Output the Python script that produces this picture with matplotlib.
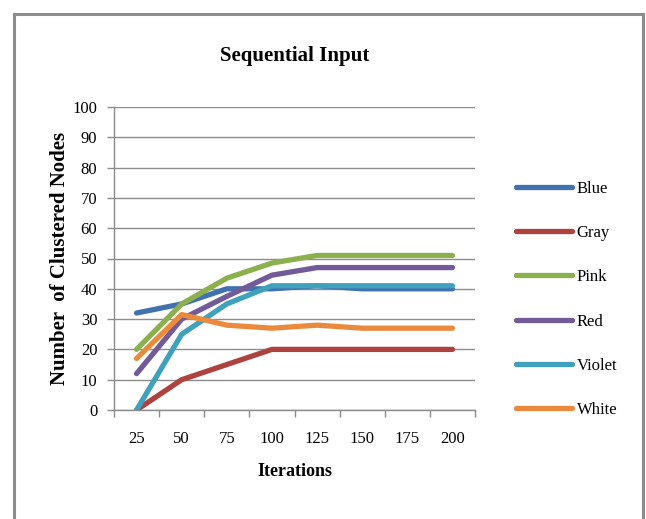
import matplotlib
matplotlib.use("Agg")
import matplotlib.pyplot as plt
from matplotlib.patches import Rectangle
import numpy as np

# Iteration categories and clustered-node counts per colour series
iterations = ["25", "50", "75", "100", "125", "150", "175", "200"]
blue = [32, 35, 40, 40, 41, 40, 40, 40]
gray = [0, 10, 15, 20, 20, 20, 20, 20]
pink = [20, 35, 43.5, 48.5, 51, 51, 51, 51]
red = [12, 30, 37.5, 44.5, 47, 47, 47, 47]
violet = [0, 25, 35, 41, 41, 41, 41, 41]
white = [17, 31.5, 28, 27, 28, 27, 27, 27]

series_names = ["Blue", "Gray", "Pink", "Red", "Violet", "White"]
series_values = [blue, gray, pink, red, violet, white]
series_colors = ["#4272AE", "#AE423F", "#8DB04E", "#735A98", "#3FA1BC", "#EA8A3D"]

serif = ["Liberation Serif", "DejaVu Serif"]

fig = plt.figure(figsize=(6.46, 5.19), dpi=100)
fig.patch.set_facecolor("white")

# Chart frame
fig.patches.append(Rectangle((14 / 646, -0.05), (643 - 14) / 646, 1 - 14 / 519 + 0.05,
                             transform=fig.transFigure, fill=False,
                             edgecolor="#8C8C8C", linewidth=2.2, zorder=0))

ax = fig.add_axes([114 / 646, 1 - 410 / 519, (475 - 114) / 646, (410 - 107) / 519])

x = np.arange(len(iterations))
for name, vals, col in zip(series_names, series_values, series_colors):
    ax.plot(x, vals, color=col, linewidth=3.8, solid_capstyle="round",
            solid_joinstyle="round", label=name, zorder=3)

ax.set_xlim(-0.5, len(iterations) - 0.5)
ax.set_ylim(0, 100)

# Category axis: tick marks between categories, labels at centres
ax.set_xticks(np.arange(-0.5, len(iterations), 1.0))
ax.set_xticklabels([])
ax.set_xticks(x, minor=True)
ax.set_xticklabels(iterations, minor=True, fontfamily=serif, fontsize=12)
ax.tick_params(axis="x", which="major", length=5, width=1, color="#8C8C8C", direction="out")
ax.tick_params(axis="x", which="minor", length=0, pad=15)

ax.set_yticks(np.arange(0, 101, 10))
ax.set_yticklabels([str(v) for v in range(0, 101, 10)], fontfamily=serif, fontsize=12)
ax.tick_params(axis="y", length=5, width=1, color="#8C8C8C", direction="out", pad=7)

ax.grid(axis="y", color="#8C8C8C", linewidth=1.0, zorder=0)
ax.set_axisbelow(True)
for side in ["top", "right"]:
    ax.spines[side].set_visible(False)
for side in ["left", "bottom"]:
    ax.spines[side].set_color("#8C8C8C")
    ax.spines[side].set_linewidth(1.0)

ax.set_title("Sequential Input", fontfamily=serif, fontweight="bold", fontsize=15, pad=33)
ax.set_xlabel("Iterations", fontfamily=serif, fontweight="bold", fontsize=13, labelpad=12)
ax.set_ylabel("Number  of Clustered Nodes", fontfamily=serif, fontweight="bold",
              fontsize=15, labelpad=1.5)

leg = fig.legend(loc="upper left", bbox_to_anchor=(509 / 646, 1 - 174 / 519),
                 frameon=False, prop={"family": serif, "size": 12},
                 handlelength=3.4, handletextpad=0.25, labelspacing=1.7,
                 borderaxespad=0)

fig.savefig("out.png", dpi=100)
